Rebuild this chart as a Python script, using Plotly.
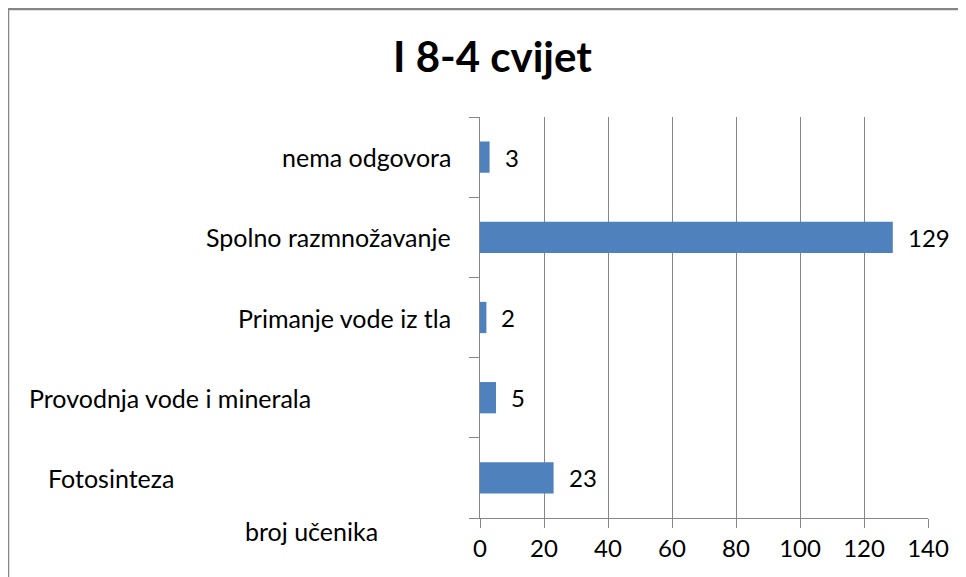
import plotly.graph_objects as go

# --- Data (bottom to top, as in the chart) ---
categories = ["Fotosinteza", "Provodnja vode i minerala", "Primanje vode iz tla",
              "Spolno razmnožavanje", "nema odgovora"]
values = [23, 5, 2, 129, 3]
x_ticks = [0, 20, 40, 60, 80, 100, 120, 140]

# the page body has an 8px margin, so everything is laid out in page pixels
# and shifted back by OFF
OFF = 8
W, H = 966 - OFF, 577 - OFF

FONT = "Lato"
BAR = "#4F81BD"
GRID = "#868686"

# plot area in page pixels: x 480..928, y 117..518
L, R, T, B = 480 - OFF, 966 - 928, 117 - OFF, 577 - 518
pw, ph = W - L - R, H - T - B


def px(x):
    return (x - OFF - L) / pw


def py(y):
    return (H - B - (y - OFF)) / ph


# label placement: (page x, anchor) -- labels in the original sit oddly
label_pos = {
    "Fotosinteza": (46, "left"),
    "Provodnja vode i minerala": (27, "left"),
    "Primanje vode iz tla": (453, "right"),
    "Spolno razmnožavanje": (453, "right"),
    "nema odgovora": (453, "right"),
}

fig = go.Figure()
fig.add_trace(go.Bar(
    x=values, y=categories, orientation="h",
    marker=dict(color=BAR, line=dict(width=0)),
    hoverinfo="x+y",
))

annotations = []
# value labels next to each bar
for c, v in zip(categories, values):
    annotations.append(dict(
        x=v, y=c, xref="x", yref="y", text=str(v), showarrow=False,
        xanchor="left", yanchor="middle", xshift=13,
        font=dict(family=FONT, size=24, color="#000000"),
    ))
# category labels
for c in categories:
    xp, anchor = label_pos[c]
    annotations.append(dict(
        x=px(xp), y=c, xref="paper", yref="y", text=c, showarrow=False,
        xanchor=anchor, yanchor="middle",
        font=dict(family=FONT, size=25, color="#000000"),
    ))
# axis title (sits where the original put it)
annotations.append(dict(
    x=px(243), y=py(531), xref="paper", yref="paper", text="broj učenika",
    showarrow=False, xanchor="left", yanchor="middle",
    font=dict(family=FONT, size=25, color="#000000"),
))
# chart title
annotations.append(dict(
    x=px(492), y=py(56), xref="paper", yref="paper", text="<b>I 8-4 cvijet</b>",
    showarrow=False, xanchor="center", yanchor="middle",
    font=dict(family=FONT, size=42, color="#000000"),
))

fig.update_layout(
    width=W, height=H,
    margin=dict(l=L, r=R, t=T, b=B),
    paper_bgcolor="white", plot_bgcolor="white",
    showlegend=False, bargap=0.61,
    annotations=annotations,
    shapes=[dict(
        type="rect", xref="paper", yref="paper",
        x0=px(8), x1=px(990), y0=py(600), y1=py(9),
        line=dict(color="#868686", width=2.5), fillcolor="rgba(0,0,0,0)",
        layer="below",
    )],
)

fig.update_xaxes(
    range=[0, 140], tickvals=x_ticks, showgrid=True, gridcolor=GRID, gridwidth=1,
    zeroline=False, showline=True, linecolor=GRID, linewidth=1,
    ticks="outside", ticklen=9, tickcolor=GRID,
    tickfont=dict(family=FONT, size=24, color="#000000"),
    fixedrange=True,
)
fig.update_yaxes(
    categoryorder="array", categoryarray=categories,
    showticklabels=False, showgrid=False, zeroline=False,
    showline=True, linecolor=GRID, linewidth=1,
    ticks="outside", tickson="boundaries", ticklen=10, tickcolor=GRID,
    fixedrange=True,
)

fig.write_html("out.html")
